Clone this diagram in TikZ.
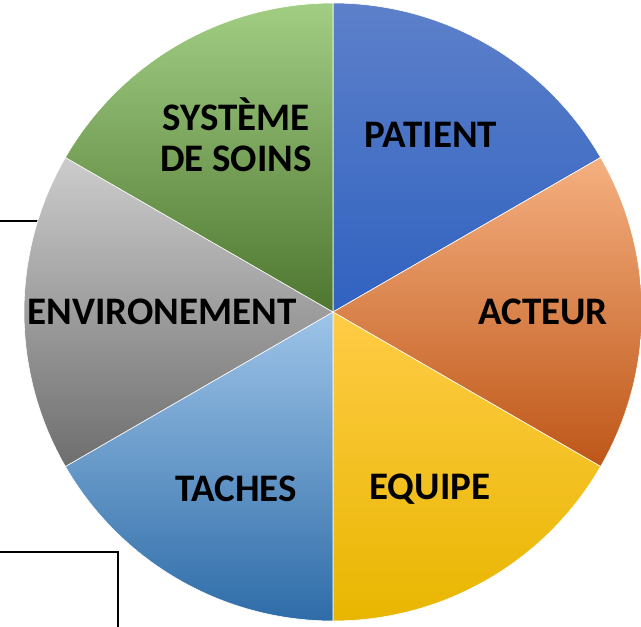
\documentclass[tikz,border=0pt]{standalone}
\usepackage{fontspec}
\setmainfont{Carlito}
\usepackage{tikz}

\definecolor{patientT}{RGB}{93,128,202}
\definecolor{patientM}{RGB}{68,114,196}
\definecolor{patientB}{RGB}{48,98,192}
\definecolor{acteurT}{RGB}{245,176,128}
\definecolor{acteurM}{RGB}{237,125,49}
\definecolor{acteurB}{RGB}{190,86,24}
\definecolor{equipeT}{RGB}{255,204,70}
\definecolor{equipeM}{RGB}{255,192,0}
\definecolor{equipeB}{RGB}{232,182,0}
\definecolor{tachesT}{RGB}{158,196,232}
\definecolor{tachesM}{RGB}{91,155,213}
\definecolor{tachesB}{RGB}{46,108,168}
\definecolor{envT}{RGB}{204,204,204}
\definecolor{envM}{RGB}{165,165,165}
\definecolor{envB}{RGB}{110,110,110}
\definecolor{soinsT}{RGB}{162,206,132}
\definecolor{soinsM}{RGB}{112,173,71}
\definecolor{soinsB}{RGB}{78,118,48}

\tikzset{
  lbl/.style={font=\bfseries\fontsize{39}{41}\selectfont, align=center, inner sep=0pt},
  sep/.style={draw=white, line width=0.6pt}
}

\begin{document}
\begin{tikzpicture}[x=1pt,y=1pt]
\useasboundingbox (0,0) rectangle (641,627);
\coordinate (c) at (333,315);

% frames behind the pie
\coordinate (l1) at (0,406);
\coordinate (l2) at (40,406);
\draw[line width=1.2pt] (l1) -- (l2);
\coordinate (b1) at (0,75);
\coordinate (b2) at (118,75);
\coordinate (b3) at (118,0);
\draw[line width=1.5pt] (b1) -- (b2) -- (b3);

% slices
\shade[top color=patientT,middle color=patientM,bottom color=patientB,sep] (c) -- ++(90:309) arc[start angle=90,end angle=30,radius=309] -- cycle;
\shade[top color=acteurT,middle color=acteurM,bottom color=acteurB,sep] (c) -- ++(30:309) arc[start angle=30,end angle=-30,radius=309] -- cycle;
\shade[top color=equipeT,middle color=equipeM,bottom color=equipeB,sep] (c) -- ++(-30:309) arc[start angle=-30,end angle=-90,radius=309] -- cycle;
\shade[top color=tachesT,middle color=tachesM,bottom color=tachesB,sep] (c) -- ++(-90:309) arc[start angle=-90,end angle=-150,radius=309] -- cycle;
\shade[top color=envT,middle color=envM,bottom color=envB,sep] (c) -- ++(210:309) arc[start angle=210,end angle=150,radius=309] -- cycle;
\shade[top color=soinsT,middle color=soinsM,bottom color=soinsB,sep] (c) -- ++(150:309) arc[start angle=150,end angle=90,radius=309] -- cycle;

\node[lbl] (soins) at (236,492) {SYSTÈME\\DE SOINS};
\node[lbl] (patient) at (431,492) {PATIENT};
\node[lbl] (acteur) at (543,315) {ACTEUR};
\node[lbl] (equipe) at (430,138) {EQUIPE};
\node[lbl] (taches) at (236,138) {TACHES};
\node[lbl] (env) at (162,315) {ENVIRONEMENT};
\end{tikzpicture}
\end{document}
